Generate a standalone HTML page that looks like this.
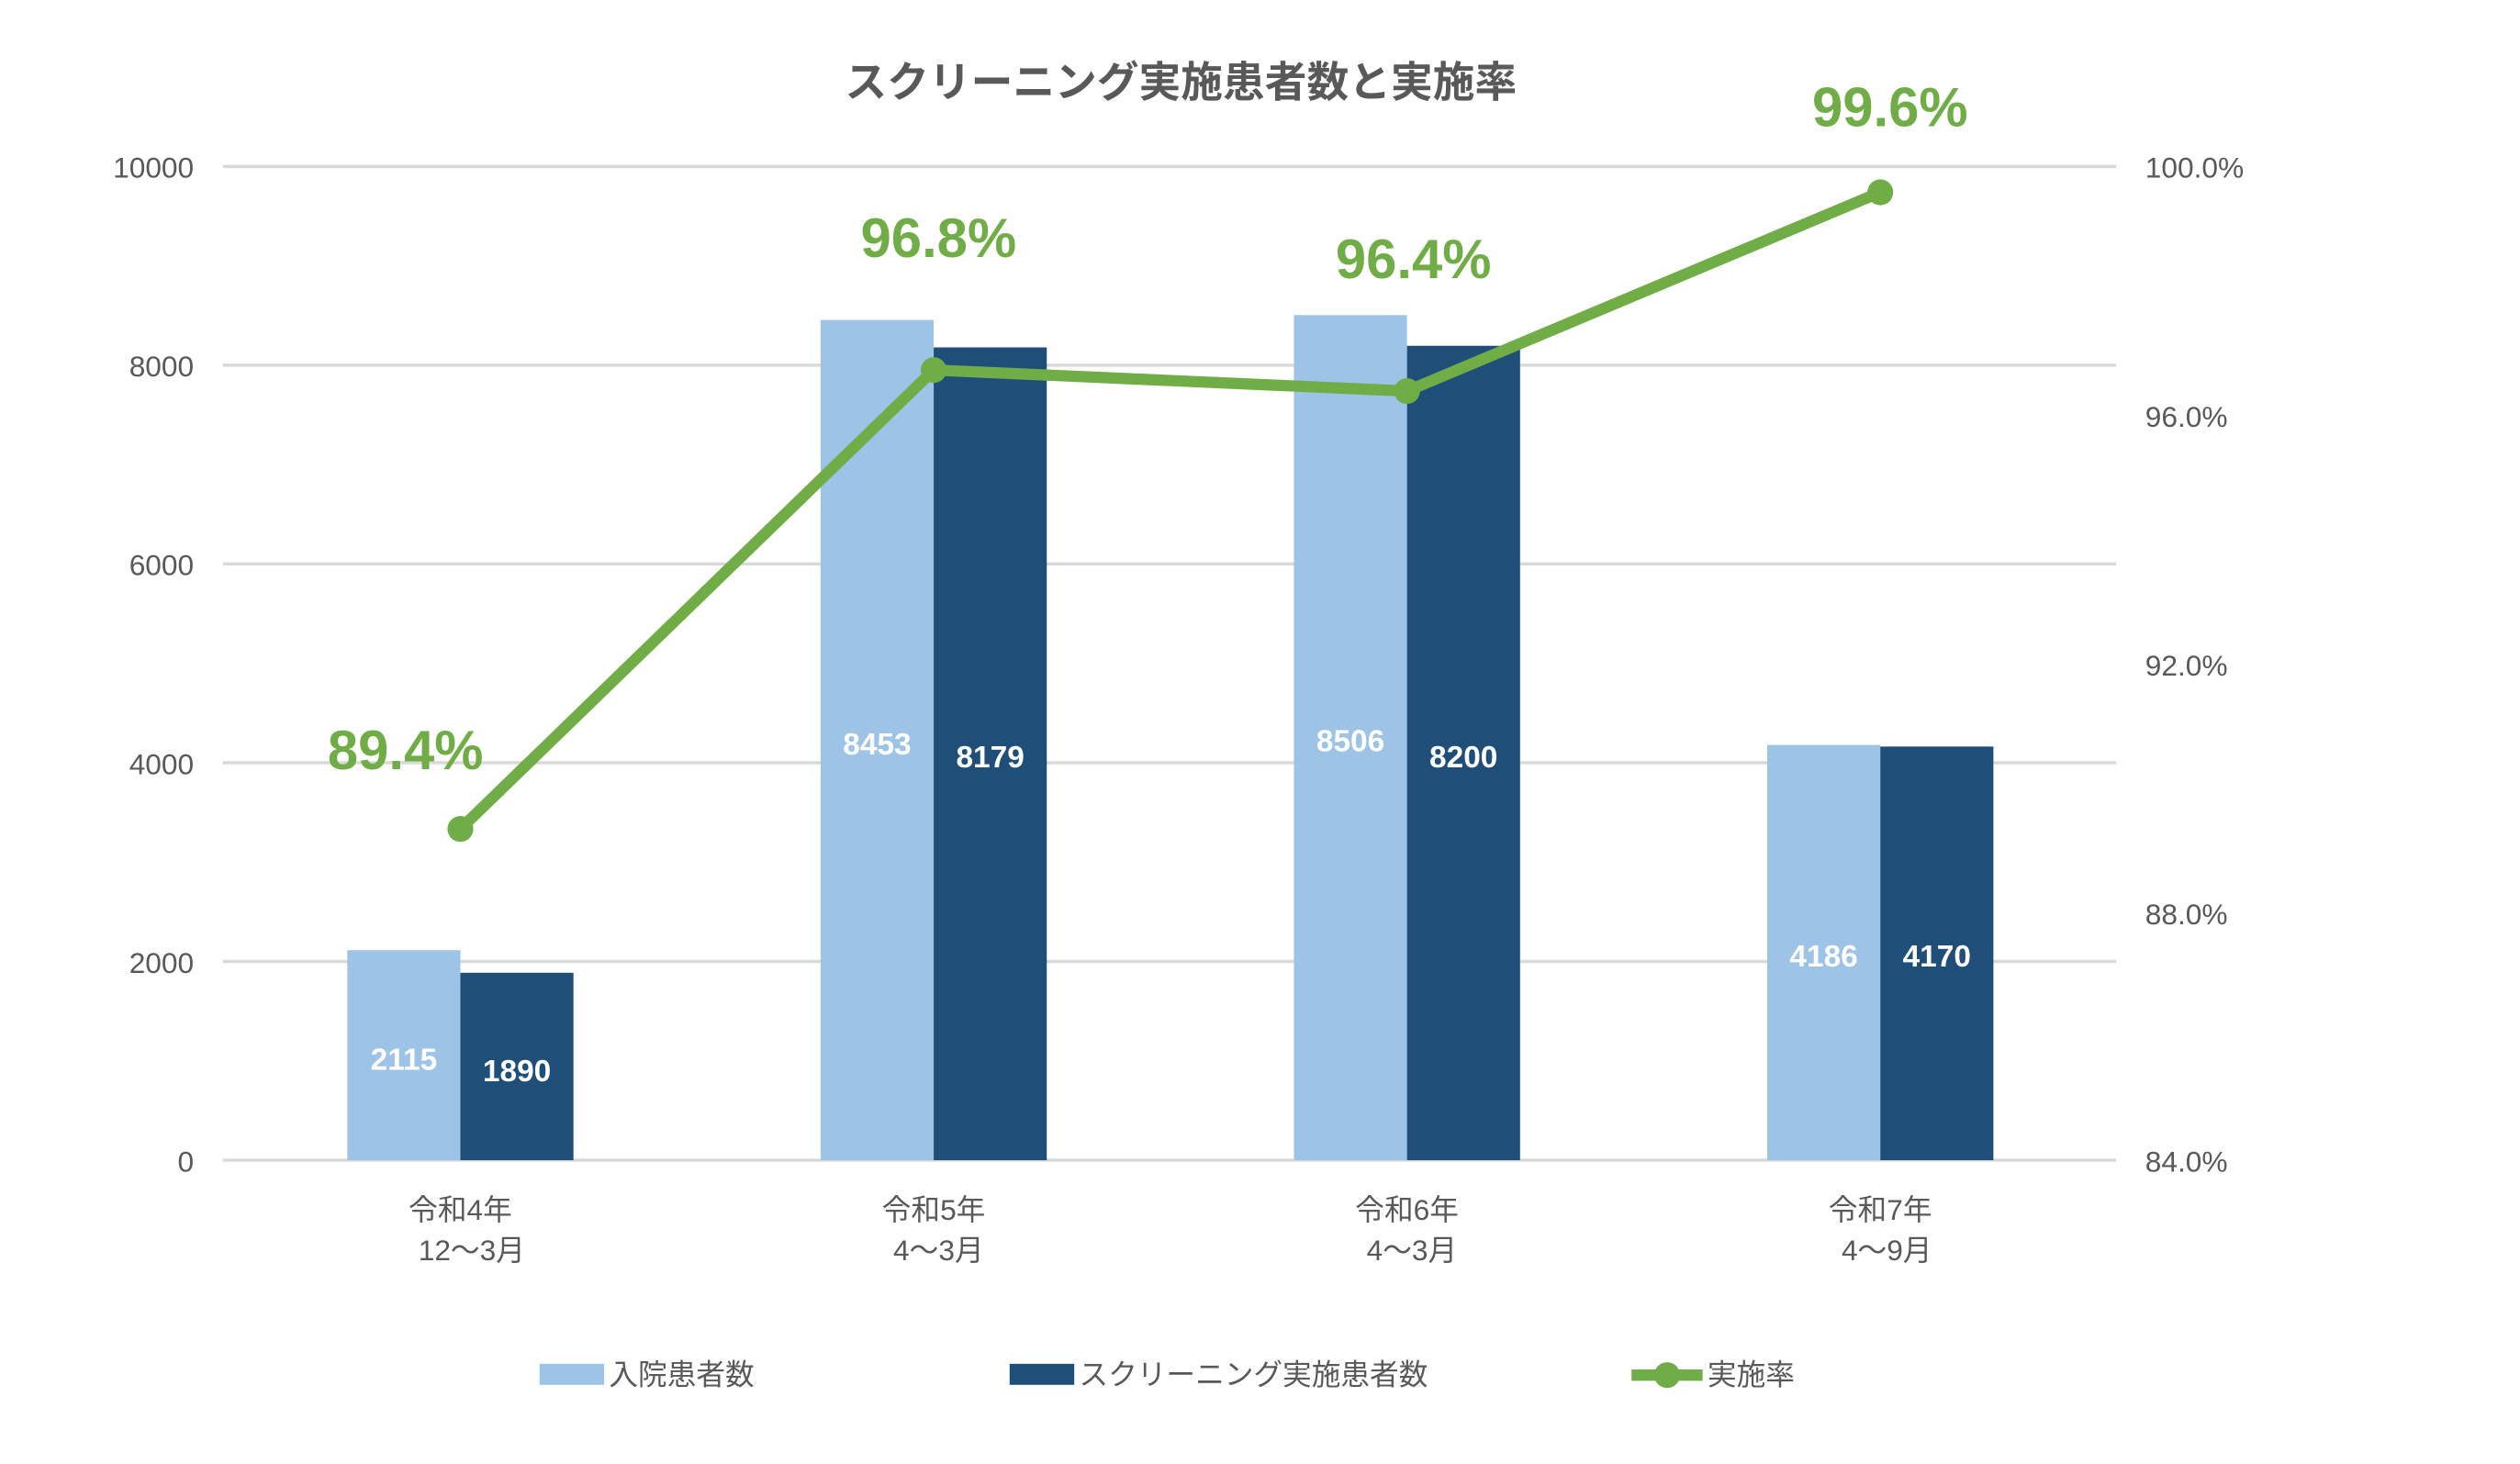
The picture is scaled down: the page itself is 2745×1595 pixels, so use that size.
<!DOCTYPE html>
<html><head><meta charset="utf-8"><style>
html,body{margin:0;padding:0;background:#fff;}
svg{display:block;}
text{font-family:"Liberation Sans","Noto Sans CJK JP",sans-serif;}
</style></head><body>
<svg width="2745" height="1595" viewBox="0 0 1560 906" preserveAspectRatio="none" xmlns="http://www.w3.org/2000/svg">
<rect width="1560" height="906" fill="#fff"/>
<text x="731" y="60" text-anchor="middle" font-size="26" font-weight="bold" fill="#595959">スクリーニング実施患者数と実施率</text>
<g stroke="#d9d9d9" stroke-width="2">
<line x1="138" y1="103" x2="1310" y2="103"/>
<line x1="138" y1="226" x2="1310" y2="226"/>
<line x1="138" y1="349" x2="1310" y2="349"/>
<line x1="138" y1="472" x2="1310" y2="472"/>
<line x1="138" y1="595" x2="1310" y2="595"/>
<line x1="138" y1="718" x2="1310" y2="718"/>
</g>
<g font-size="18" fill="#595959" text-anchor="end">
<text x="120" y="110">10000</text><text x="120" y="233">8000</text><text x="120" y="356">6000</text>
<text x="120" y="479">4000</text><text x="120" y="602">2000</text><text x="120" y="725">0</text>
</g>
<g font-size="18" fill="#595959">
<text x="1328" y="110">100.0%</text><text x="1328" y="264">96.0%</text><text x="1328" y="418">92.0%</text>
<text x="1328" y="572">88.0%</text><text x="1328" y="725">84.0%</text>
</g>
<g fill="#9dc3e6">
<rect x="215" y="588" width="70" height="130"/>
<rect x="508" y="198" width="70" height="520"/>
<rect x="801" y="195" width="70" height="523"/>
<rect x="1094" y="461" width="70" height="257"/>
</g>
<g fill="#1f4e79">
<rect x="285" y="602" width="70" height="116"/>
<rect x="578" y="215" width="70" height="503"/>
<rect x="871" y="214" width="70" height="504"/>
<rect x="1164" y="462" width="70" height="256"/>
</g>
<g font-size="19" font-weight="bold" fill="#fff" text-anchor="middle">
<text x="250" y="662">2115</text><text x="320" y="669">1890</text>
<text x="543" y="467">8453</text><text x="613" y="475">8179</text>
<text x="836" y="465">8506</text><text x="906" y="475">8200</text>
<text x="1129" y="598">4186</text><text x="1199" y="598">4170</text>
</g>
<polyline points="285,513 578,229 871,242 1164,119" fill="none" stroke="#70ad47" stroke-width="7" stroke-linejoin="round"/>
<g fill="#70ad47">
<circle cx="285" cy="513" r="8"/><circle cx="578" cy="229" r="8"/><circle cx="871" cy="242" r="8"/><circle cx="1164" cy="119" r="8"/>
</g>
<g font-size="34" font-weight="bold" fill="#70ad47" text-anchor="middle">
<text x="251" y="476">89.4%</text><text x="581" y="159">96.8%</text>
<text x="875" y="172">96.4%</text><text x="1170" y="78">99.6%</text>
</g>
<g font-size="18" fill="#595959" text-anchor="middle">
<text x="285" y="755">令和4年</text><text x="292" y="780">12～3月</text>
<text x="578" y="755">令和5年</text><text x="581" y="780">4～3月</text>
<text x="871" y="755">令和6年</text><text x="874" y="780">4～3月</text>
<text x="1164" y="755">令和7年</text><text x="1168" y="780">4～9月</text>
</g>
<rect x="334" y="844" width="40" height="13" fill="#9dc3e6"/>
<text x="377" y="857" font-size="18" fill="#595959">入院患者数</text>
<rect x="625" y="844" width="40" height="13" fill="#1f4e79"/>
<text x="668" y="857" font-size="18" fill="#595959">スクリーニング実施患者数</text>
<line x1="1010" y1="851" x2="1054" y2="851" stroke="#70ad47" stroke-width="7"/>
<circle cx="1032" cy="851" r="8" fill="#70ad47"/>
<text x="1057" y="857" font-size="18" fill="#595959">実施率</text>
</svg>
</body></html>
